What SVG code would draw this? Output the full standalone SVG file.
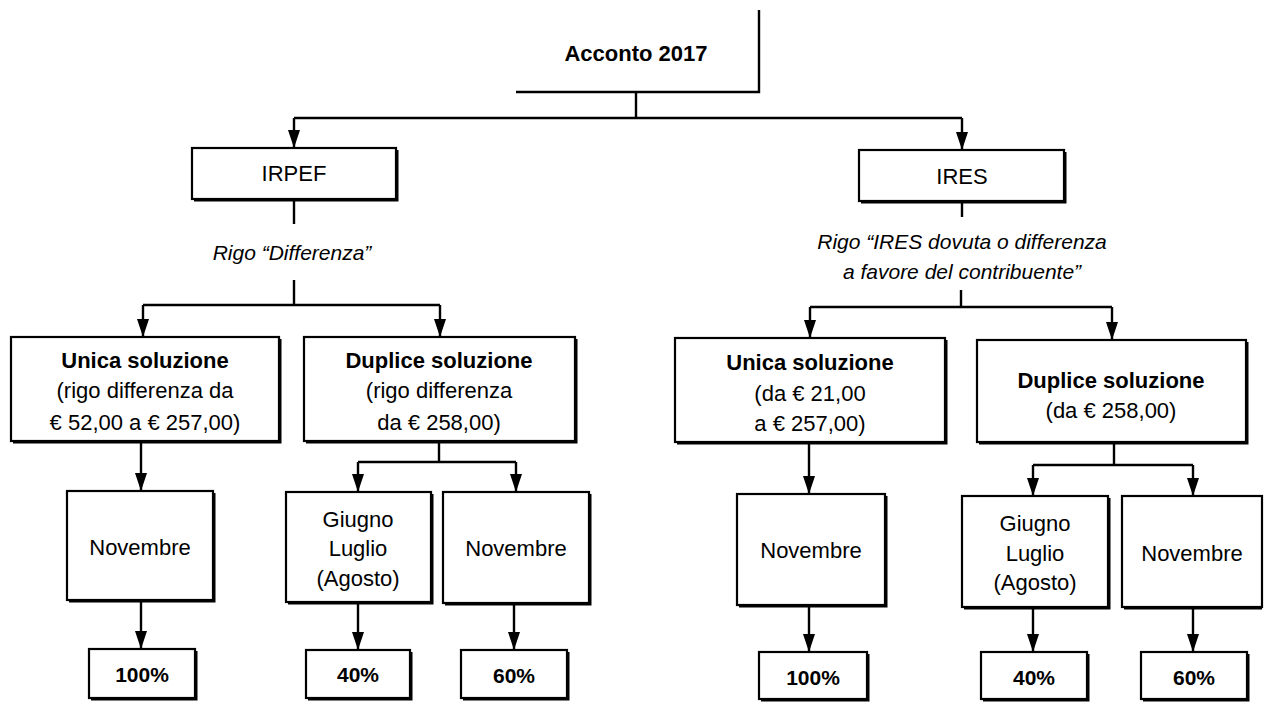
<svg xmlns="http://www.w3.org/2000/svg" width="1264" height="702" viewBox="0 0 1264 702">
<style>
  .box { fill: #fff; stroke: #000; stroke-width: 2.2; }
  .shd { fill: none; stroke: #000; stroke-width: 2; }
  .ln { fill: none; stroke: #000; stroke-width: 2.4; }
  text { font-family: "Liberation Sans", Arial, sans-serif; font-size: 22px; fill: #000; text-anchor: middle; }
  .b { font-weight: bold; }
  .i { font-style: italic; font-size: 21px; }
  .p { font-weight: bold; font-size: 21px; }
</style>
<defs>
  <marker id="ahd" markerUnits="userSpaceOnUse" markerWidth="12" markerHeight="18" viewBox="0 0 12 18" refX="6" refY="18" orient="0">
    <path d="M0,0 L12,0 L6,18 Z" fill="#000"/>
  </marker>
</defs>
<rect width="1264" height="702" fill="#fff"/>

<g id="connectors">
  <path class="ln" d="M759,10 V92 H516"/>
  <path class="ln" d="M636,92 V118"/>
  <path class="ln" d="M294,118 H962"/>
  <path class="ln" d="M294,118 V148" marker-end="url(#ahd)"/>
  <path class="ln" d="M962,118 V150" marker-end="url(#ahd)"/>

  <path class="ln" d="M294,200 V224"/>
  <path class="ln" d="M294,280 V305"/>
  <path class="ln" d="M143,305 H440"/>
  <path class="ln" d="M143,305 V337" marker-end="url(#ahd)"/>
  <path class="ln" d="M440,305 V337" marker-end="url(#ahd)"/>

  <path class="ln" d="M962,202 V217"/>
  <path class="ln" d="M961,290 V307"/>
  <path class="ln" d="M810,307 H1112"/>
  <path class="ln" d="M810,307 V338" marker-end="url(#ahd)"/>
  <path class="ln" d="M1112,307 V340" marker-end="url(#ahd)"/>

  <path class="ln" d="M141,441 V491" marker-end="url(#ahd)"/>
  <path class="ln" d="M141,600 V649" marker-end="url(#ahd)"/>

  <path class="ln" d="M439,441 V462"/>
  <path class="ln" d="M358,462 H516"/>
  <path class="ln" d="M358,462 V492" marker-end="url(#ahd)"/>
  <path class="ln" d="M516,462 V492" marker-end="url(#ahd)"/>
  <path class="ln" d="M358,602 V650" marker-end="url(#ahd)"/>
  <path class="ln" d="M514,603 V650" marker-end="url(#ahd)"/>

  <path class="ln" d="M809,442 V494" marker-end="url(#ahd)"/>
  <path class="ln" d="M809,605 V652" marker-end="url(#ahd)"/>

  <path class="ln" d="M1114,442 V465"/>
  <path class="ln" d="M1033,465 H1193"/>
  <path class="ln" d="M1033,465 V496" marker-end="url(#ahd)"/>
  <path class="ln" d="M1193,465 V496" marker-end="url(#ahd)"/>
  <path class="ln" d="M1033,607 V652" marker-end="url(#ahd)"/>
  <path class="ln" d="M1193,607 V652" marker-end="url(#ahd)"/>
</g>

<g id="acconto">
  <text class="b" x="636" y="61">Acconto 2017</text>
</g>

<g id="irpef">
  <rect class="box" x="192" y="148" width="204" height="51"/>
  <path class="shd" d="M194,200.5 H397.5 V150"/>
  <text x="294" y="181">IRPEF</text>
</g>
<g id="ires">
  <rect class="box" x="859" y="150" width="205" height="51"/>
  <path class="shd" d="M861,202.5 H1065.5 V152"/>
  <text x="962" y="184">IRES</text>
</g>

<g id="label-differenza">
  <text class="i" x="292" y="260">Rigo “Differenza”</text>
</g>
<g id="label-ires">
  <text class="i" x="962" y="249">Rigo “IRES dovuta o differenza</text>
  <text class="i" x="962" y="279">a favore del contribuente”</text>
</g>

<g id="unica-irpef">
  <rect class="box" x="11" y="337" width="268" height="104"/>
  <path class="shd" d="M13,442.5 H280.5 V339"/>
  <text class="b" x="145" y="368">Unica soluzione</text>
  <text x="145" y="398">(rigo differenza da</text>
  <text x="145" y="430">€ 52,00 a € 257,00)</text>
</g>
<g id="duplice-irpef">
  <rect class="box" x="304" y="337" width="271" height="104"/>
  <path class="shd" d="M306,442.5 H576.5 V339"/>
  <text class="b" x="439" y="368">Duplice soluzione</text>
  <text x="439" y="398">(rigo differenza</text>
  <text x="439" y="430">da € 258,00)</text>
</g>

<g id="unica-ires">
  <rect class="box" x="675" y="338" width="270" height="104"/>
  <path class="shd" d="M677,443.5 H946.5 V340"/>
  <text class="b" x="810" y="370">Unica soluzione</text>
  <text x="810" y="401">(da € 21,00</text>
  <text x="810" y="431">a € 257,00)</text>
</g>
<g id="duplice-ires">
  <rect class="box" x="977" y="340" width="269" height="102"/>
  <path class="shd" d="M979,443.5 H1247.5 V342"/>
  <text class="b" x="1111" y="388">Duplice soluzione</text>
  <text x="1111" y="418">(da € 258,00)</text>
</g>

<g id="nov-irpef-unica">
  <rect class="box" x="67" y="491" width="146" height="109"/>
  <path class="shd" d="M69,601.5 H214.5 V493"/>
  <text x="140" y="555">Novembre</text>
</g>
<g id="giu-irpef">
  <rect class="box" x="286" y="492" width="145" height="110"/>
  <path class="shd" d="M288,603.5 H432.5 V494"/>
  <text x="358" y="527">Giugno</text>
  <text x="358" y="556">Luglio</text>
  <text x="358" y="586">(Agosto)</text>
</g>
<g id="nov-irpef-duplice">
  <rect class="box" x="443" y="492" width="146" height="111"/>
  <path class="shd" d="M445,604.5 H590.5 V494"/>
  <text x="516" y="556">Novembre</text>
</g>

<g id="nov-ires-unica">
  <rect class="box" x="737" y="494" width="148" height="111"/>
  <path class="shd" d="M739,606.5 H886.5 V496"/>
  <text x="811" y="558">Novembre</text>
</g>
<g id="giu-ires">
  <rect class="box" x="962" y="496" width="146" height="111"/>
  <path class="shd" d="M964,608.5 H1109.5 V498"/>
  <text x="1035" y="531">Giugno</text>
  <text x="1035" y="561">Luglio</text>
  <text x="1035" y="590">(Agosto)</text>
</g>
<g id="nov-ires-duplice">
  <rect class="box" x="1122" y="496" width="140" height="111"/>
  <path class="shd" d="M1124,608.5 H1262"/>
  <text x="1192" y="561">Novembre</text>
</g>

<g id="p100-irpef">
  <rect class="box" x="89" y="649" width="106" height="49"/>
  <path class="shd" d="M91,699.5 H196.5 V651"/>
  <text class="p" x="142" y="682">100%</text>
</g>
<g id="p40-irpef">
  <rect class="box" x="306" y="650" width="104" height="48"/>
  <path class="shd" d="M308,699.5 H411.5 V652"/>
  <text class="p" x="358" y="682">40%</text>
</g>
<g id="p60-irpef">
  <rect class="box" x="461" y="650" width="106" height="48"/>
  <path class="shd" d="M463,699.5 H568.5 V652"/>
  <text class="p" x="514" y="683">60%</text>
</g>
<g id="p100-ires">
  <rect class="box" x="759" y="652" width="108" height="47"/>
  <path class="shd" d="M761,700.5 H868.5 V654"/>
  <text class="p" x="813" y="685">100%</text>
</g>
<g id="p40-ires">
  <rect class="box" x="981" y="652" width="106" height="47"/>
  <path class="shd" d="M983,700.5 H1088.5 V654"/>
  <text class="p" x="1034" y="685">40%</text>
</g>
<g id="p60-ires">
  <rect class="box" x="1141" y="652" width="106" height="47"/>
  <path class="shd" d="M1143,700.5 H1248.5 V654"/>
  <text class="p" x="1194" y="685">60%</text>
</g>
</svg>
